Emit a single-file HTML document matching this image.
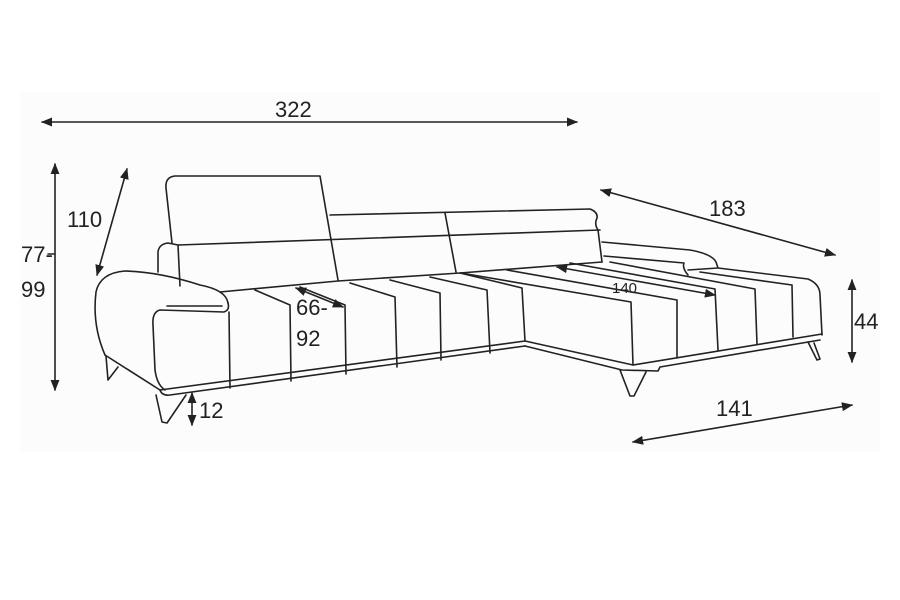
<!DOCTYPE html>
<html><head><meta charset="utf-8"><style>
html,body{margin:0;padding:0;background:#fff;}
svg{display:block;}
text{font-family:"Liberation Sans",sans-serif;fill:#222;}
</style></head><body>
<svg width="900" height="600" viewBox="0 0 900 600" xmlns="http://www.w3.org/2000/svg">
<defs>
<marker id="a" viewBox="0 0 10 10" refX="9" refY="5" markerWidth="7" markerHeight="7" orient="auto-start-reverse"><path d="M0,1 L10,5 L0,9 z" fill="#222"/></marker>
</defs>
<rect x="20" y="92" width="860" height="360" fill="#fcfcfc"/>
<g stroke="#222" stroke-width="1.6" fill="none" stroke-linejoin="round" stroke-linecap="round">
<line x1="42" y1="122" x2="577" y2="122" marker-start="url(#a)" marker-end="url(#a)"/>
<line x1="55" y1="164" x2="55" y2="390" marker-start="url(#a)" marker-end="url(#a)"/>
<line x1="127" y1="169" x2="97" y2="275" marker-start="url(#a)" marker-end="url(#a)"/>
<line x1="296" y1="288" x2="343" y2="307" marker-start="url(#a)" marker-end="url(#a)"/>
<line x1="192" y1="393" x2="192" y2="425" marker-start="url(#a)" marker-end="url(#a)"/>
<line x1="601" y1="190" x2="835" y2="255" marker-start="url(#a)" marker-end="url(#a)"/>
<line x1="557" y1="267" x2="715" y2="295" marker-start="url(#a)" marker-end="url(#a)"/>
<line x1="852" y1="280" x2="852" y2="362" marker-start="url(#a)" marker-end="url(#a)"/>
<line x1="633" y1="442" x2="852" y2="405" marker-start="url(#a)" marker-end="url(#a)"/>
<line x1="48" y1="254" x2="55" y2="254"/>

<path d="M172,243 L166,188 Q165,177 175,176 L320,176 L338,280"/>
<path d="M330,215 L590,209 Q598,212 597,218 Q594,224 598,230 L602,262"/>
<line x1="445" y1="213" x2="456" y2="272"/>
<path d="M178,245 L600,230"/>
<path d="M158,272 L158,252 Q159,244 168,243 L178,245 L180,286"/>
<path d="M220,292 L338,281 L460,273 L602,262"/>
<path d="M228,303 Q226,290 200,285 Q160,272 125,271 Q100,273 96,292 Q92,325 105,355"/>
<path d="M228,303 Q230,310 224,312 L160,310 Q152,312 153,325 L155,370 Q157,385 165,390"/>
<line x1="167" y1="306" x2="222" y2="306"/>
<line x1="229" y1="312" x2="230" y2="388"/>
<path d="M105,355 L160,390 L525,341"/>
<path d="M160,390 Q162,396 170,395 L525,346"/>
<path d="M106,356 L108,380 L118,367"/>
<path d="M156,395 L162,422 L167,423 L186,395"/>
<path d="M255,290 L290,305 L291,381"/>
<path d="M300,287 L345,305 L346,374"/>
<path d="M350,283 L395,297 L397,367"/>
<path d="M390,280 L440,293 L441,360"/>
<path d="M430,277 L487,290 L490,353"/>
<path d="M460,273 L522,288 L525,341"/>
<path d="M461,273 L631,302 L633,365"/>
<path d="M507,270 L677,300 L677,358"/>
<path d="M570,263 L715,289 L718,350"/>
<path d="M610,262 L755,289 L757,344"/>
<path d="M700,272 L792,285 L793,337"/>
<path d="M718,268 L808,279 Q820,284 820,295 L822,335"/>
<path d="M525,341 L633,365 L822,334"/>
<path d="M525,346 L622,370 L658,371 L660,367 L820,340"/>
<path d="M620,370 L630,396 L634,396 L646,372"/>
<path d="M808,342 L817,360 L820,359 L814,343"/>
<path d="M602,242 L690,250 Q712,254 716,262 L718,268 L688,270"/>
<path d="M604,256 L684,263 Q682,268 688,275"/>
</g>
<g font-size="22">
<text x="275" y="117">322</text>
<text x="21" y="262">77-</text>
<text x="21" y="297">99</text>
<text x="67" y="227">110</text>
<text x="296" y="315">66-</text>
<text x="296" y="346">92</text>
<text x="199" y="418">12</text>
<text x="709" y="216">183</text>
<text x="854" y="329">44</text>
<text x="716" y="416">141</text>
<text x="612" y="293" font-size="15">140</text>
</g>
</svg>
</body></html>
